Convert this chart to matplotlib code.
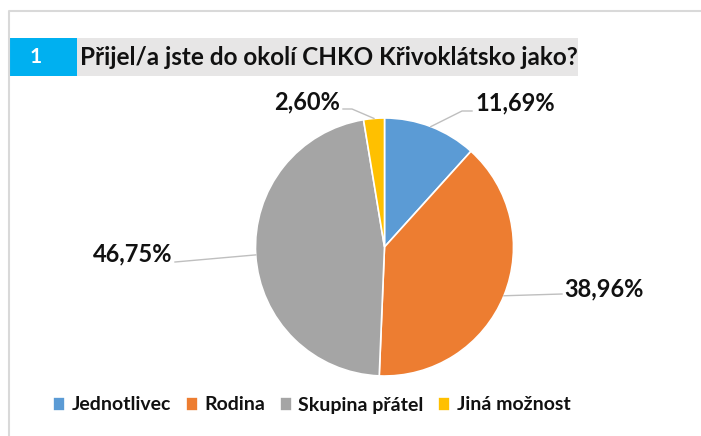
import matplotlib
matplotlib.use("Agg")
import matplotlib.pyplot as plt
import numpy as np

# data
categories = ["Jednotlivec", "Rodina", "Skupina přátel", "Jiná možnost"]
shares = [11.69, 38.96, 46.75, 2.60]
labels = ["11,69%", "38,96%", "46,75%", "2,60%"]
colors = ["#5B9BD5", "#ED7D31", "#A5A5A5", "#FFC000"]
title = "Přijel/a jste do okolí CHKO Křivoklátsko jako?"
number = "1"

W, H = 701, 436
FONT = ["Lato", "DejaVu Sans"]


def py(y):
    # pixel row (top-down) -> data y (bottom-up)
    return H - y


fig = plt.figure(figsize=(W / 100, H / 100), dpi=100)
ax = fig.add_axes([0, 0, 1, 1])

# pie
cx, cy, r = 384.5, py(247), 129
wedges, _ = ax.pie(shares, colors=colors, startangle=90, counterclock=False,
                   center=(cx, cy), radius=r, frame=True,
                   wedgeprops=dict(edgecolor="white", linewidth=1.2))
ax.set_xlim(0, W)
ax.set_ylim(0, H)
ax.set_aspect("equal")
ax.axis("off")

# frame lines
ax.plot([9, 9, W], [0, py(11), py(11)], color="#D9D9D9", lw=1.5, solid_capstyle="butt")

# title band
ax.add_patch(plt.Rectangle((9, py(76)), 68, 38, color="#00B0F0", lw=0))
ax.add_patch(plt.Rectangle((77, py(76)), 501, 38, color="#E7E6E6", lw=0))
ax.text(36, py(57), number, color="white", fontsize=15, fontweight="bold",
        family=FONT, ha="center", va="center")
ax.text(80, py(57), title, color="#111111", fontsize=17.5, fontweight="bold",
        family=FONT, ha="left", va="center")

# label layout: (elbow points after the wedge edge, text anchor, ha)
layout = [
    ([(462, 111), (472, 111)], (475, 103), "left"),
    ([(562, 294)], (564, 289), "left"),
    ([(175, 262)], (172, 254), "right"),
    ([(352, 109), (343, 109)], (340, 102), "right"),
]
cum = np.cumsum([0] + shares[:-1])
for share, start, lab, (pts, tpos, ha) in zip(shares, cum, labels, layout):
    ang = np.deg2rad(90 - (start + share / 2) * 3.6)
    x0, y0 = cx + r * np.cos(ang), cy + r * np.sin(ang)
    xs = [x0] + [p[0] for p in pts]
    ys = [y0] + [py(p[1]) for p in pts]
    ax.plot(xs, ys, color="#BFBFBF", lw=1.0)
    ax.text(tpos[0], py(tpos[1]), lab, fontsize=17, fontweight="bold",
            family=FONT, color="#111111", ha=ha, va="center")

leg = ax.legend(wedges, categories, loc="center", bbox_to_anchor=(312 / W, 1 - 405 / H),
                ncol=4, frameon=False, handlelength=0.6, handleheight=0.75,
                handletextpad=0.35, columnspacing=0.75,
                prop=dict(family=FONT, weight="bold", size=14))
for t in leg.get_texts():
    t.set_color("#111111")

fig.savefig("out.png", dpi=100)
